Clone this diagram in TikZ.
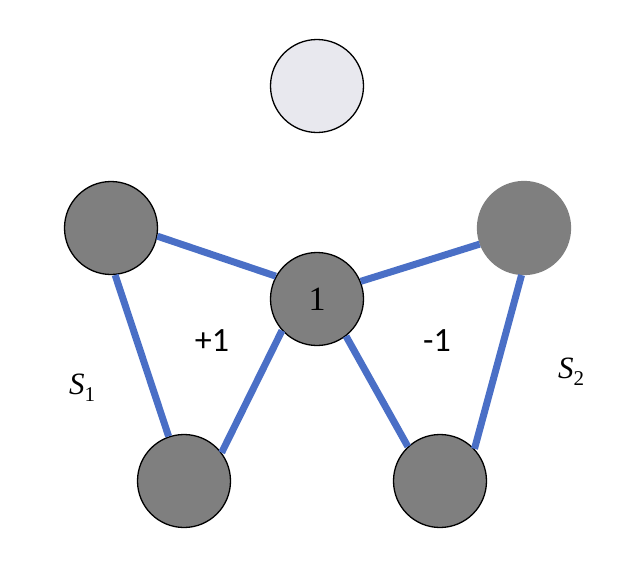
\documentclass[tikz,border=0pt]{standalone}
\usepackage{fontspec}
\setmainfont{Liberation Serif}
\newfontfamily\labfont{Carlito}
\definecolor{edgeblue}{HTML}{4A6FC6}
\definecolor{nodegray}{HTML}{7F7F7F}
\definecolor{lightnode}{HTML}{E8E8EE}
\newcommand{\subl}[1]{\textit{S}\raisebox{-0.22em}{\fontsize{21}{24}\selectfont #1}}
\begin{document}
\begin{tikzpicture}[x=1pt,y=-1pt,
  vert/.style={circle,minimum size=93pt,inner sep=0pt,fill=nodegray,draw=black,line width=1.3pt},
  edge/.style={draw=edgeblue,line width=7pt},
  lab/.style={inner sep=0pt,font=\labfont\fontsize{34}{40}\selectfont},
  slab/.style={inner sep=0pt,font=\fontsize{31}{36}\selectfont}]
\useasboundingbox (0,0) rectangle (638,576);
\node[vert,fill=lightnode] (top) at (317,86) {};
\node[vert] (lt) at (111,228) {};
\node[vert,font=\fontsize{34}{40}\selectfont] (c) at (317,299) {1};
\node[vert,draw=nodegray] (rt) at (524,228) {};
\node[vert] (lb) at (184,481) {};
\node[vert] (rb) at (440,481) {};
\draw[edge] (lt.-10) -- (c.151);
\draw[edge] (c.22) -- (rt.200);
\draw[edge] (lt.-85) -- (lb.109);
\draw[edge] (c.222) -- (lb.37);
\draw[edge] (c.-52) -- (rb.133);
\draw[edge] (rt.-93) -- (rb.43);
\node[lab] (p1) at (212,341) {+1};
\node[lab] (m1) at (437,341) {-1};
\node[slab] (s1) at (82,388) {\subl{1}};
\node[slab] (s2) at (571,372) {\subl{2}};
\end{tikzpicture}
\end{document}
